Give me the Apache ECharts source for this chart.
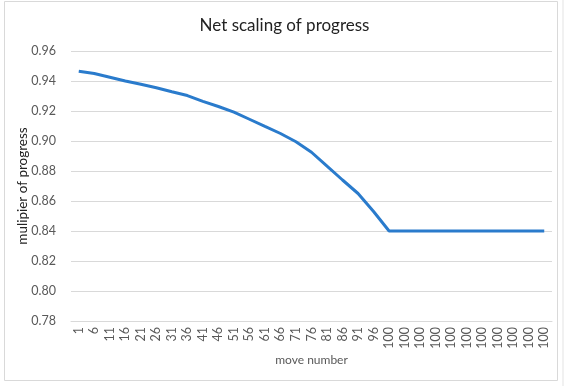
<!DOCTYPE html>
<html>
<head>
<meta charset="utf-8">
<script src="https://cdn.jsdelivr.net/npm/echarts@6/dist/echarts.min.js"></script>
<style>
html,body{margin:0;padding:0;background:#fff;}
#chart{width:569px;height:386px;}
</style>
</head>
<body>
<div id="chart"></div>
<script>
var categories = ['1','6','11','16','21','26','31','36','41','46','51','56','61','66','71','76','81','86','91','96',
  '100','100','100','100','100','100','100','100','100','100','100'];
var multiplier = [0.9465,0.9450,0.9425,0.9400,0.9378,0.9355,0.9328,0.9303,0.9264,0.9230,0.9192,0.9145,0.9097,0.9050,0.8995,
  0.8925,0.8832,0.8740,0.8650,0.8530,0.8400,0.8400,0.8400,0.8400,0.8400,0.8400,0.8400,0.8400,0.8400,0.8400,0.8400];
var titleText = 'Net scaling of progress';
var xName = 'move number';
var yName = 'mulipier of progress';
var yMin = 0.78, yMax = 0.96, yStep = 0.02;

var chart = echarts.init(document.getElementById('chart'), null, {renderer:'canvas'});
var font = 'Lato, "Open Sans", sans-serif';
chart.setOption({
  animation: false,
  backgroundColor: '#fff',
  graphic: [
    {type:'line', shape:{x1:563, y1:0, x2:563, y2:386}, style:{stroke:'#e3e3e3', lineWidth:1}, silent:true},
    {type:'rect', shape:{x:4.5, y:1.5, width:553, height:379}, style:{fill:'none', stroke:'#d9d9d9', lineWidth:1}, silent:true}
  ],
  title: {
    text: titleText, left: 'center', top: 12,
    textStyle: {fontFamily: font, fontSize: 17, fontWeight: 'normal', color: '#222'}
  },
  grid: {left: 71, right: 17, top: 51, bottom: 65},
  xAxis: {
    type: 'category', data: categories, boundaryGap: true,
    name: xName, nameLocation: 'middle', nameGap: 33, nameMoveOverlap: false,
    nameTextStyle: {fontFamily: font, fontSize: 12, color: '#595959'},
    axisLine: {lineStyle: {color: '#d9d9d9'}},
    axisTick: {show: false},
    axisLabel: {interval: 0, rotate: 90, margin: 6, fontFamily: font, fontSize: 12.5, color: '#595959'}
  },
  yAxis: {
    type: 'value', min: yMin, max: yMax, interval: yStep,
    name: yName, nameLocation: 'middle', nameGap: 41, nameMoveOverlap: false,
    nameTextStyle: {fontFamily: font, fontSize: 13.5, color: '#222'},
    axisLine: {show: false}, axisTick: {show: false},
    axisLabel: {margin: 15, fontFamily: font, fontSize: 12.5, color: '#595959', formatter: function(v){return v.toFixed(2);}},
    splitLine: {lineStyle: {color: '#d9d9d9', width: 1}}
  },
  series: [{
    type: 'line', data: multiplier, showSymbol: false, smooth: false,
    lineStyle: {color: '#2a7bcc', width: 3}
  }]
});
</script>
</body>
</html>
